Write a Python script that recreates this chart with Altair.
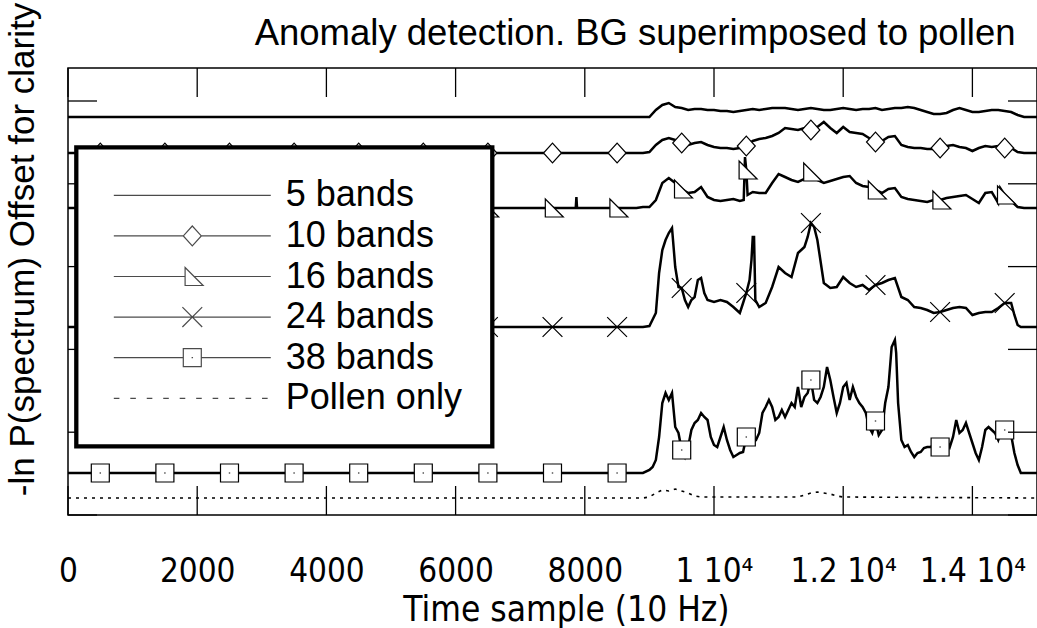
import altair as alt
import numpy as np
import pandas as pd

TITLE = "Anomaly detection. BG superimposed to pollen"
X_TITLE = "Time sample (10 Hz)"
Y_TITLE = "-ln P(spectrum) Offset for clarity"

SERIES = ["5 bands", "10 bands", "16 bands", "24 bands", "38 bands", "Pollen only"]

X_TICKS = [0, 2000, 4000, 6000, 8000, 10000, 12000, 14000]
X_TICK_LABELS = ["0", "2000", "4000", "6000", "8000", "1 10\u2074", "1.2 10\u2074", "1.4 10\u2074"]
Y_TICKS = [0, 82.8, 165.6, 248.4, 331.2, 414.0]
MARKER_X = [500, 1500, 2500, 3500, 4500, 5500, 6500, 7500, 8500,
            9500, 10500, 11500, 12500, 13500, 14500]

GRID = list(range(8800, 14900, 100))  # 8800 ... 14800 sample positions

x_5 = [0] + GRID + [15000]
y_5 = [398,
       398, 398, 398, 405, 410, 412, 408, 407, 405, 406, 406, 405, 405, 404, 404, 403,
       404, 405, 406, 405, 406, 407, 407, 407, 406, 405, 406, 407, 406, 405, 405, 406,
       407, 406, 405, 406, 406, 407, 405, 406, 407, 407, 408, 407, 405, 403, 401, 401,
       402, 405, 407, 405, 403, 403, 404, 405, 405, 404, 403, 400, 398,
       398]

x_10 = [0] + GRID + [15000]
y_10 = [362,
        362, 362, 363, 370, 375, 377, 375, 372, 370, 372, 373, 370, 368, 367, 367, 366,
        367, 369, 374, 376, 377, 379, 382, 387, 386, 385, 387, 385, 388, 393, 387, 382,
        388, 383, 382, 381, 377, 373, 374, 378, 379, 370, 368, 367, 367, 366, 366, 367,
        369, 370, 368, 367, 364, 367, 369, 368, 369, 367, 367, 363, 362,
        362]

x_16 = [0, 7860, 7870, 7880, 8800, 8900, 9000, 9100, 9200, 9300, 9400, 9500, 9600, 9700,
        9800, 9900, 10000, 10100, 10200, 10300, 10400, 10460, 10480, 10500, 10520, 10600,
        10700, 10800, 10900, 11000, 11100, 11200, 11300, 11400, 11500, 11600, 11700, 11800,
        11900, 12000, 12100, 12200, 12300, 12400, 12500, 12600, 12700, 12800, 12900, 13000,
        13100, 13200, 13300, 13400, 13500, 13600, 13700, 13800, 13900, 14000, 14100, 14200,
        14300, 14400, 14430, 14500, 14600, 14700, 14800, 15000]
y_16 = [307, 307, 318, 307, 307, 308, 308, 315, 332, 337, 332, 326, 322, 323,
        328, 318, 315, 314, 315, 316, 314, 315, 358, 345, 320, 323,
        322, 322, 332, 341, 338, 335, 333, 336, 343, 335, 332, 334,
        336, 338, 339, 332, 329, 328, 325, 322, 326, 327, 318, 316,
        315, 314, 313, 315, 315, 317, 318, 319, 320, 316, 312, 322,
        323, 312, 327, 320, 314, 308, 307, 307]

x_24 = [0, 8800, 8900, 9000, 9100, 9150, 9200, 9250, 9300, 9350, 9400, 9450, 9500, 9550,
        9600, 9650, 9700, 9750, 9800, 9850, 9900, 10000, 10100, 10200, 10300, 10400, 10450,
        10500, 10550, 10580, 10600, 10620, 10640, 10700, 10800, 10900, 11000, 11100, 11200,
        11300, 11400, 11450, 11500, 11550, 11600, 11700, 11800, 11900, 12000, 12100, 12200,
        12300, 12400, 12500, 12600, 12700, 12800, 12900, 13000, 13100, 13200, 13300, 13400,
        13500, 13600, 13700, 13800, 13900, 14000, 14100, 14200, 14300, 14400, 14500, 14600,
        14650, 14700, 14750, 15000]
y_24 = [188, 188, 188, 189, 202, 242, 265, 275, 282, 287, 248, 228, 227, 215,
        208, 215, 218, 235, 237, 222, 215, 213, 215, 213, 208, 202, 212,
        222, 235, 255, 278, 278, 215, 208, 212, 228, 248, 242, 238,
        262, 268, 278, 292, 288, 275, 232, 227, 228, 238, 232, 228,
        230, 225, 230, 232, 235, 237, 218, 215, 208, 207, 205, 202,
        203, 205, 207, 208, 207, 200, 202, 203, 203, 207, 212, 212,
        200, 190, 188, 188]

x_38 = [0, 8800, 8900, 9000, 9050, 9100, 9150, 9200, 9250, 9300, 9350, 9400, 9450, 9500,
        9550, 9600, 9650, 9700, 9750, 9800, 9850, 9900, 9950, 10000, 10050, 10100, 10150,
        10200, 10250, 10300, 10350, 10400, 10450, 10500, 10550, 10600, 10650, 10700, 10750,
        10800, 10850, 10900, 10950, 11000, 11050, 11100, 11150, 11200, 11250, 11300, 11350,
        11400, 11450, 11500, 11550, 11600, 11650, 11700, 11750, 11800, 11850, 11900, 11950,
        12000, 12050, 12100, 12150, 12200, 12250, 12300, 12350, 12400, 12450, 12500, 12550,
        12600, 12650, 12700, 12750, 12800, 12820, 12850, 12900, 12950, 13000, 13050, 13100,
        13150, 13200, 13250, 13300, 13350, 13400, 13450, 13500, 13550, 13600, 13650, 13700,
        13750, 13800, 13850, 13900, 13950, 14000, 14050, 14100, 14150, 14200, 14250, 14300,
        14350, 14400, 14450, 14500, 14550, 14600, 14650, 14700, 14750, 14800, 15000]
y_38 = [42, 42, 42, 45, 48, 55, 78, 112, 122, 115, 122, 88, 82, 65,
        58, 68, 85, 92, 95, 102, 98, 95, 78, 70, 68, 78, 88,
        75, 65, 58, 60, 62, 63, 78, 75, 72, 75, 82, 102,
        108, 115, 108, 95, 98, 105, 98, 105, 112, 108, 128, 108,
        118, 122, 135, 115, 112, 118, 128, 148, 135, 118, 102, 112,
        128, 132, 115, 128, 118, 112, 108, 102, 88, 82, 94, 80,
        85, 112, 128, 168, 175, 162, 112, 75, 68, 70, 63, 58,
        62, 63, 67, 68, 68, 70, 68, 68, 72, 75, 68, 78,
        95, 82, 85, 92, 82, 72, 62, 55, 68, 85, 88, 85,
        82, 75, 85, 85, 88, 80, 62, 50, 42, 42, 42]

x_pollen = [0, 8900, 9000, 9100, 9200, 9300, 9400, 9500, 9600, 9700, 9800,
            11300, 11400, 11500, 11600, 11700, 11800, 11900, 12000, 15000]
y_pollen = [17, 17, 18, 22, 25, 24, 26, 24, 22, 19, 18,
            18, 20, 22, 23, 22, 21, 19, 18, 17]

DATA = {
    "5 bands": (x_5, y_5),
    "10 bands": (x_10, y_10),
    "16 bands": (x_16, y_16),
    "24 bands": (x_24, y_24),
    "38 bands": (x_38, y_38),
    "Pollen only": (x_pollen, y_pollen),
}

rows = []
for name, (xs, ys) in DATA.items():
    assert len(xs) == len(ys), name
    for a, b in zip(xs, ys):
        rows.append({"x": a, "y": b, "series": name})
df = pd.DataFrame(rows)

MARKED = ["10 bands", "16 bands", "24 bands", "38 bands"]
mk = []
for name in MARKED:
    xs, ys = DATA[name]
    for mx in MARKER_X:
        mk.append({"x": mx, "y": float(np.interp(mx, xs, ys)), "series": name})
mk_df = pd.DataFrame(mk)

# marker glyphs (unit coordinates)
DIAMOND = "M 0 -1.1 L 1 0 L 0 1.1 L -1 0 Z"
TRIANGLE = "M -0.8 -1 L -0.8 1 L 1.2 1 Z"
XCROSS = "M -1.1 -1.1 L 1.1 1.1 M -1.1 1.1 L 1.1 -1.1"
SQUARE = "M -1 -1 L 1 -1 L 1 1 L -1 1 Z M -0.08 0 L 0.08 0"
MARKER_PATHS = [DIAMOND, TRIANGLE, XCROSS, SQUARE]

L = 8.72
dashes = " ".join(
    f"M {-L + k * 1.83:.2f} 0 L {-L + k * 1.83 + 0.62:.2f} 0" for k in range(10)
)
LEGEND_PATHS = [
    f"M {-L} 0 L {L} 0",
    f"M {-L} 0 L -1 0 M 1 0 L {L} 0 " + DIAMOND,
    f"M {-L} 0 L -0.8 0 M 0.2 0 L {L} 0 " + TRIANGLE,
    f"M {-L} 0 L {L} 0 " + XCROSS,
    f"M {-L} 0 L -1 0 M 1 0 L {L} 0 " + SQUARE,
    dashes,
]

W, H = 969, 447
FONT = "Liberation Sans"
COND = "DejaVu Sans Condensed, Liberation Sans"

label_expr = (
    "[" + ",".join(f"'{t}'" for t in X_TICK_LABELS) + "][indexof(["
    + ",".join(str(v) for v in X_TICKS) + "], datum.value)]"
)

X_AXIS = alt.Axis(
    orient="bottom",
    values=X_TICKS, labelExpr=label_expr, ticks=False, tickSize=0, domain=False, grid=False,
    labelFont=COND, labelFontSize=33, labelColor="black", labelBaseline="alphabetic",
    labelPadding=66, labelFlush=False, labelOverlap=False,
    title=X_TITLE, titleFont=COND, titleFontSize=35, titleFontWeight="normal",
    titleColor="black", titleX=498, titleY=105, titleBaseline="alphabetic", titleAlign="center",
)
TOP_AXIS = alt.Axis(
    orient="top", labels=False, ticks=False, domain=False, grid=False,
    title=TITLE, titleFont=FONT, titleFontSize=36.5, titleFontWeight="normal",
    titleColor="black", titleX=W - 22, titleY=-24, titleAlign="right",
    titleBaseline="alphabetic", titleAngle=0,
)
Y_AXIS = alt.Axis(
    labels=False, ticks=False, domain=False, grid=False,
    title=Y_TITLE, titleFont=FONT, titleFontSize=35, titleFontWeight="normal",
    titleColor="black", titleAngle=270, titleX=-35, titleY=181,
    titleAlign="center", titleBaseline="alphabetic",
)
XS = alt.Scale(domain=[0, 15000], nice=False, zero=False)
YS = alt.Scale(domain=[0, 447], nice=False, zero=False)


def X(axis=None):
    return alt.X("x:Q", scale=XS, axis=axis)


def Y():
    return alt.Y("y:Q", scale=YS, axis=Y_AXIS)


base = alt.Chart(df)
lines = base.transform_filter("datum.series != 'Pollen only'").mark_line(
    color="black", strokeWidth=2.5, clip=True
).encode(x=X(X_AXIS), y=Y(), detail="series:N")

pollen = base.transform_filter("datum.series == 'Pollen only'").mark_line(
    color="black", strokeWidth=1.6, strokeDash=[3, 5], clip=True
).encode(x=X(), y=Y())

markers = alt.Chart(mk_df).mark_point(
    filled=True, fill="white", stroke="black", strokeWidth=1.2, opacity=1, size=324
).encode(
    x=X(), y=Y(),
    shape=alt.Shape("series:N", scale=alt.Scale(domain=MARKED, range=MARKER_PATHS), legend=None),
)

xt = alt.Chart(pd.DataFrame({"x": X_TICKS}))
yt = alt.Chart(pd.DataFrame({"y": Y_TICKS}))
tick_b = xt.mark_rule(color="black", strokeWidth=1.3).encode(x=X(), y=alt.value(H), y2=alt.value(H - 29))
tick_t = xt.mark_rule(color="black", strokeWidth=1.3).encode(x=X(TOP_AXIS), y=alt.value(0), y2=alt.value(29))
tick_l = yt.mark_rule(color="black", strokeWidth=1.3).encode(y=Y(), x=alt.value(0), x2=alt.value(29))
tick_r = yt.mark_rule(color="black", strokeWidth=1.3).encode(y=Y(), x=alt.value(W - 29), x2=alt.value(W))

legend_layer = alt.Chart(pd.DataFrame({"lg": SERIES})).transform_filter("false").mark_point(
    filled=False, stroke="black", strokeWidth=1.2, size=324
).encode(
    x=alt.value(0), y=alt.value(0),
    shape=alt.Shape(
        "lg:N",
        scale=alt.Scale(domain=SERIES, range=LEGEND_PATHS),
        legend=alt.Legend(
            title=None, orient="none", legendX=8.3, legendY=79.3, padding=30,
            strokeColor="black", fillColor="white",
            symbolSize=324, symbolStrokeWidth=1.2, symbolStrokeColor="black",
            symbolFillColor="white", symbolOffset=68, labelOffset=75.5,
            labelFont=FONT, labelFontSize=36, labelColor="black", labelLimit=0,
            labelBaseline="middle", rowPadding=4.6, zindex=5,
        ),
    ),
)

chart = (
    alt.layer(lines, pollen, markers, tick_b, tick_t, tick_l, tick_r, legend_layer)
    .resolve_scale(shape="independent")
    .resolve_legend(shape="independent")
    .resolve_axis(x="independent")
    .properties(
        width=W, height=H,
        padding={"left": 68, "top": 68, "right": 0, "bottom": 113},
        autosize=alt.AutoSizeParams(type="none"),
        background="white",
    )
    .configure_view(stroke="black", strokeWidth=1.5)
    .configure_legend(strokeWidth=4.3)
)

chart.save("out.html", embed_options={"renderer": "svg", "actions": False})
